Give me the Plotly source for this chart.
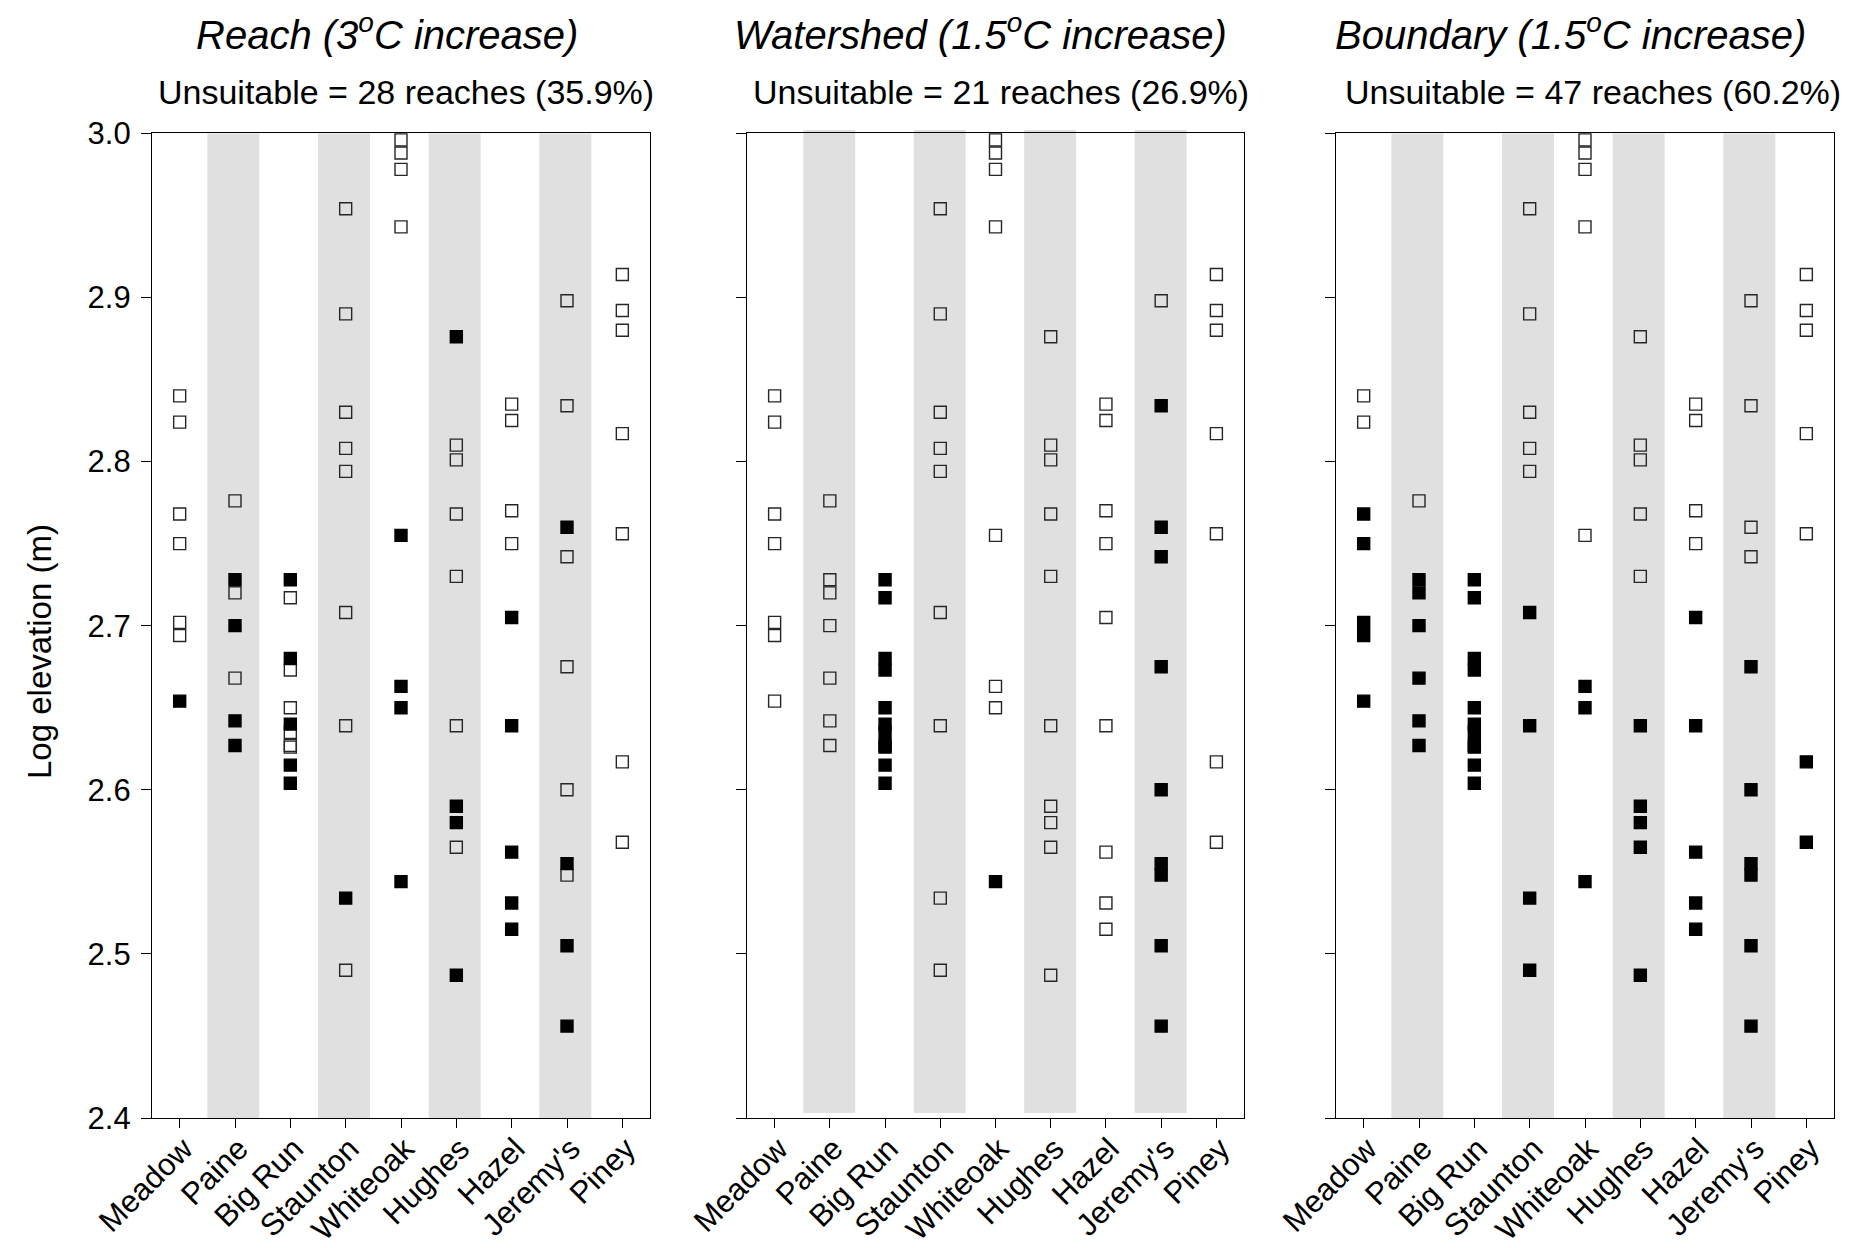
import plotly.graph_objects as go

# Streams along the x axis
streams = ["Meadow", "Paine", "Big Run", "Staunton", "Whiteoak",
           "Hughes", "Hazel", "Jeremy's", "Piney"]

# Log10 elevation (m) of every study reach, by stream
meadow = [2.840, 2.824, 2.768, 2.750, 2.702, 2.694, 2.654]
paine = [2.776, 2.728, 2.720, 2.700, 2.668, 2.642, 2.627]
big_run = [2.728, 2.717, 2.680, 2.673, 2.650, 2.640, 2.635, 2.627, 2.626, 2.615, 2.604]
staunton = [2.954, 2.890, 2.830, 2.808, 2.794, 2.708, 2.639, 2.534, 2.490]
whiteoak = [2.996, 2.988, 2.978, 2.943, 2.755, 2.663, 2.650, 2.544]
hughes = [2.876, 2.810, 2.801, 2.768, 2.730, 2.639, 2.590, 2.580, 2.565, 2.487]
hazel = [2.835, 2.825, 2.770, 2.750, 2.705, 2.639, 2.562, 2.531, 2.515]
jeremys = [2.898, 2.834, 2.760, 2.742, 2.675, 2.600, 2.555, 2.548, 2.505, 2.456]
piney = [2.914, 2.892, 2.880, 2.817, 2.756, 2.617, 2.568]

log_elevation = [meadow, paine, big_run, staunton, whiteoak, hughes, hazel, jeremys, piney]

# 1 = reach predicted thermally unsuitable under the scenario (filled square)
reach_unsuitable = [
    [0, 0, 0, 0, 0, 0, 1],
    [0, 1, 0, 1, 0, 1, 1],
    [1, 0, 1, 0, 0, 1, 0, 0, 0, 1, 1],
    [0, 0, 0, 0, 0, 0, 0, 1, 0],
    [0, 0, 0, 0, 1, 1, 1, 1],
    [1, 0, 0, 0, 0, 0, 1, 1, 0, 1],
    [0, 0, 0, 0, 1, 1, 1, 1, 1],
    [0, 0, 1, 0, 0, 0, 1, 0, 1, 1],
    [0, 0, 0, 0, 0, 0, 0],
]
watershed_unsuitable = [
    [0, 0, 0, 0, 0, 0, 0],
    [0, 0, 0, 0, 0, 0, 0],
    [1, 1, 1, 1, 1, 1, 1, 1, 1, 1, 1],
    [0, 0, 0, 0, 0, 0, 0, 0, 0],
    [0, 0, 0, 0, 0, 0, 0, 1],
    [0, 0, 0, 0, 0, 0, 0, 0, 0, 0],
    [0, 0, 0, 0, 0, 0, 0, 0, 0],
    [0, 1, 1, 1, 1, 1, 1, 1, 1, 1],
    [0, 0, 0, 0, 0, 0, 0],
]
boundary_unsuitable = [
    [0, 0, 1, 1, 1, 1, 1],
    [0, 1, 1, 1, 1, 1, 1],
    [1, 1, 1, 1, 1, 1, 1, 1, 1, 1, 1],
    [0, 0, 0, 0, 0, 1, 1, 1, 1],
    [0, 0, 0, 0, 0, 1, 1, 1],
    [0, 0, 0, 0, 0, 1, 1, 1, 1, 1],
    [0, 0, 0, 0, 1, 1, 1, 1, 1],
    [0, 0, 0, 0, 1, 1, 1, 1, 1, 1],
    [0, 0, 0, 0, 0, 1, 1],
]

scenario_titles = ["Reach (3<sup>o</sup>C increase)",
                   "Watershed (1.5<sup>o</sup>C increase)",
                   "Boundary (1.5<sup>o</sup>C increase)"]
scenario_notes = ["Unsuitable = 28 reaches (35.9%)",
                  "Unsuitable = 21 reaches (26.9%)",
                  "Unsuitable = 47 reaches (60.2%)"]
scenario_flags = [reach_unsuitable, watershed_unsuitable, boundary_unsuitable]

shaded_streams = ["Paine", "Staunton", "Hughes", "Jeremy's"]
y_ticks = [2.4, 2.5, 2.6, 2.7, 2.8, 2.9, 3.0]

FONT = "Liberation Sans, Arial, sans-serif"
W, H = 1852, 1248

# panel placement in pixels
panel_x = [(152, 650), (747, 1244), (1336, 1834)]
plot_top, plot_bottom = 133.3, 1118.0
title_x = [387, 980, 1570]
note_x = [406, 1001, 1593]

fig = go.Figure()
shapes = []
annotations = []

for p, flags in enumerate(scenario_flags):
    n = "" if p == 0 else str(p + 1)
    xa, ya = "x" + n, "y" + n
    open_x, open_y, fill_x, fill_y = [], [], [], []
    for i, (elev, flag) in enumerate(zip(log_elevation, flags)):
        for e, f in zip(elev, flag):
            if f:
                fill_x.append(i)
                fill_y.append(e)
            else:
                open_x.append(i)
                open_y.append(e)
    fig.add_trace(go.Scatter(
        x=open_x, y=open_y, mode="markers", xaxis=xa, yaxis=ya,
        marker=dict(symbol="square", size=12, color="rgba(0,0,0,0)",
                    line=dict(color="#262626", width=1.4)),
        cliponaxis=False, showlegend=False, hoverinfo="skip"))
    fig.add_trace(go.Scatter(
        x=fill_x, y=fill_y, mode="markers", xaxis=xa, yaxis=ya,
        marker=dict(symbol="square", size=12, color="black",
                    line=dict(color="black", width=1.4)),
        cliponaxis=False, showlegend=False, hoverinfo="skip"))

    # shaded stream columns
    for s in shaded_streams:
        i = streams.index(s)
        if p == 1:
            shapes.append(dict(type="rect", xref=xa, yref="paper",
                               x0=i - 0.48, x1=i + 0.46,
                               y0=1 - 1113 / H, y1=1 - 130 / H,
                               fillcolor="#e0e0e0", line=dict(width=0), layer="below"))
        else:
            shapes.append(dict(type="rect", xref=xa, yref=ya,
                               x0=i - 0.5, x1=i + 0.44, y0=2.4, y1=3.0,
                               fillcolor="#e0e0e0", line=dict(width=0), layer="below"))

    x0, x1 = panel_x[p]
    axis_common = dict(showline=True, linecolor="black", linewidth=1.3, mirror=True,
                       showgrid=False, zeroline=False, ticks="outside",
                       tickcolor="black", tickwidth=1.3, automargin=False)
    fig.layout["xaxis" + n] = dict(
        axis_common, domain=[x0 / W, x1 / W], anchor=ya, range=[-0.5, 8.5],
        tickmode="array", tickvals=list(range(len(streams))), ticktext=streams,
        tickangle=-45, ticklen=9, ticklabelshift=4, ticklabelstandoff=-10,
        tickfont=dict(family=FONT, size=31, color="black"))
    fig.layout["yaxis" + n] = dict(
        axis_common, domain=[1 - plot_bottom / H, 1 - plot_top / H], anchor=xa,
        range=[2.4, 3.0], tickmode="array", tickvals=y_ticks,
        ticktext=["%.1f" % v for v in y_ticks], ticklen=10,
        showticklabels=(p == 0), ticklabelstandoff=4,
        tickfont=dict(family=FONT, size=31, color="black"))

    annotations.append(dict(text="<i>" + scenario_titles[p] + "</i>", xref="paper", yref="paper",
                            x=title_x[p] / W, y=1 - 32 / H, xanchor="center", yanchor="middle",
                            showarrow=False, font=dict(family=FONT, size=40, color="black")))
    annotations.append(dict(text=scenario_notes[p], xref="paper", yref="paper",
                            x=note_x[p] / W, y=1 - 92 / H, xanchor="center", yanchor="middle",
                            showarrow=False, font=dict(family=FONT, size=34, color="black")))

annotations.append(dict(text="Log elevation (m)", xref="paper", yref="paper",
                        x=39 / W, y=1 - 652 / H, xanchor="center", yanchor="middle",
                        textangle=-90, showarrow=False,
                        font=dict(family=FONT, size=33, color="black")))

fig.update_layout(
    template="none",
    width=W, height=H, autosize=False,
    margin=dict(l=0, r=0, t=0, b=0),
    paper_bgcolor="white", plot_bgcolor="white",
    shapes=shapes, annotations=annotations,
    showlegend=False,
)

fig.write_html("out.html", config={"displayModeBar": False})
